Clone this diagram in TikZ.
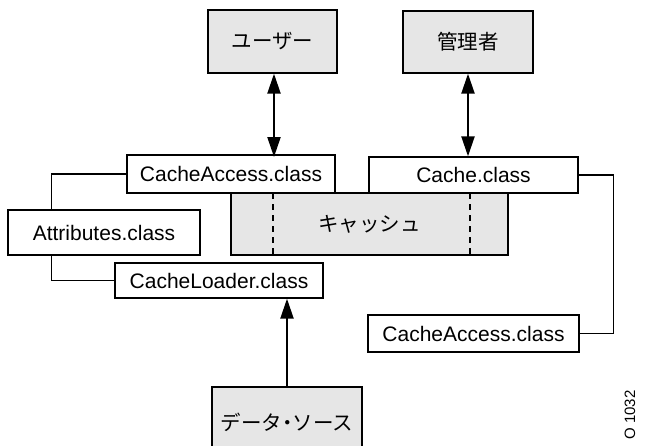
\documentclass[tikz,border=0pt]{standalone}
\usepackage{fontspec}
\setmainfont{Liberation Sans}
\newfontfamily\jp{Noto Sans CJK JP}
\usetikzlibrary{arrows.meta,calc}
\definecolor{boxgray}{RGB}{230,230,230}
\tikzset{
  box/.style={draw=black, line width=1.3pt, inner sep=0pt, align=center},
  graybox/.style={box, fill=boxgray, font=\jp\fontsize{20.5}{24}\selectfont},
  classbox/.style={box, fill=white, font=\fontsize{21}{25}\selectfont},
  conn/.style={line width=1.3pt},
  arr/.style={line width=2.2pt, -{Triangle[length=20pt,width=13pt]}},
  biarr/.style={line width=2.2pt, {Triangle[length=20pt,width=13pt]}-{Triangle[length=20pt,width=13pt]}},
  dash line/.style={line width=1.3pt, dash pattern=on 6pt off 5pt}
}
\begin{document}
\begin{tikzpicture}[x=1pt,y=-1pt]
\useasboundingbox (0,0) rectangle (654,445);
\clip (0,0) rectangle (654,445);
% top actors
\node[graybox, minimum width=129pt, minimum height=63pt] (user) at (272.5,41.5) {ユーザー};
\node[graybox, minimum width=130pt, minimum height=62pt] (admin) at (468,42) {管理者};
% cache box
\node[graybox, minimum width=277pt, minimum height=62pt] (kc) at (369.5,224) {キャッシュ};
\coordinate (d1t) at (273,193);
\coordinate (d1b) at (273,255);
\coordinate (d2t) at (470,193);
\coordinate (d2b) at (470,255);
\draw[dash line] (d1t) -- (d1b);
\draw[dash line] (d2t) -- (d2b);
% class boxes
\node[classbox, minimum width=208pt, minimum height=38pt] (ca1) at (231,174) {CacheAccess.class};
\node[classbox, minimum width=209pt, minimum height=36pt] (cache) at (473.5,175) {Cache.class};
\node[classbox, minimum width=192pt, minimum height=45pt] (attr) at (104,232.5) {Attributes.class};
\node[classbox, minimum width=208pt, minimum height=35pt] (loader) at (219,280.5) {CacheLoader.class};
\node[classbox, minimum width=211pt, minimum height=37pt] (ca2) at (473.5,333.5) {CacheAccess.class};
% data source
\node[graybox, minimum width=150pt, minimum height=70pt] (data) at (287,422) {データ\kern-5pt・\kern-5pt ソース};
% connectors
\coordinate (attrtop) at ($(attr.north west)+(44,0)$);
\coordinate (attrbot) at ($(attr.south west)+(44,0)$);
\draw[conn] (ca1.west) -| (attrtop);
\draw[conn] (attrbot) |- (loader.west);
\coordinate (rightbend) at ($(cache.east)+(35,0)$);
\draw[conn] (cache.east) -- (rightbend) |- (ca2.east);
% arrows
\coordinate (uarr) at (274,157);
\draw[biarr] (user.south -| uarr) -- (uarr);
\draw[biarr] (admin.south) -- (admin.south |- cache.north);
\draw[arr] (data.north) -- (data.north |- loader.south);
% figure id
\node[rotate=90, font=\fontsize{15}{17}\selectfont, inner sep=0pt] (fid) at (630,415) {O 1032};
\end{tikzpicture}
\end{document}
